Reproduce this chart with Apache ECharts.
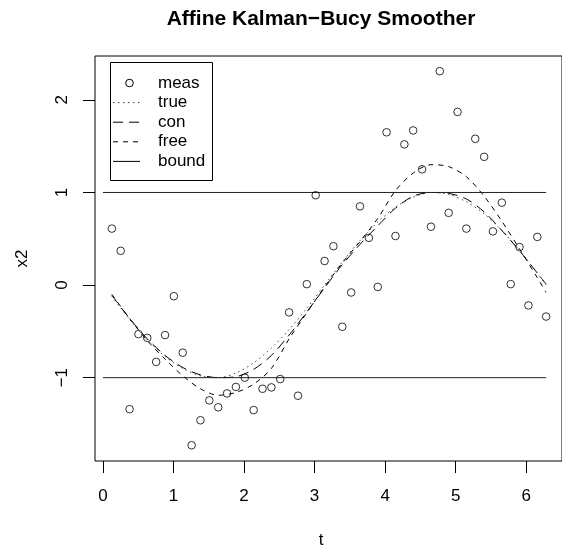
<!DOCTYPE html>
<html>
<head>
<meta charset="utf-8">
<script src="https://cdn.jsdelivr.net/npm/echarts@6/dist/echarts.min.js"></script>
<style>html,body{margin:0;padding:0;background:#fff}#c{width:562px;height:548px}</style>
</head>
<body>
<div id="c"></div>
<script>
// measurement times
const tMeas = [0.126,0.251,0.377,0.503,0.628,0.754,0.880,1.005,1.131,1.257,1.382,1.508,1.634,1.759,1.885,2.011,2.136,2.262,2.388,2.513,2.639,2.765,2.890,3.016,3.142,3.267,3.393,3.519,3.644,3.770,3.896,4.021,4.147,4.273,4.398,4.524,4.650,4.775,4.901,5.027,5.152,5.278,5.404,5.529,5.655,5.781,5.906,6.032,6.158,6.283];
const meas = [0.61,0.37,-1.34,-0.53,-0.57,-0.83,-0.54,-0.12,-0.73,-1.73,-1.46,-1.245,-1.32,-1.17,-1.10,-1.00,-1.35,-1.12,-1.105,-1.015,-0.295,-1.195,0.01,0.97,0.26,0.42,-0.45,-0.08,0.85,0.51,-0.02,1.65,0.53,1.52,1.67,1.25,0.63,2.31,0.78,1.87,0.61,1.58,1.385,0.58,0.89,0.01,0.41,-0.22,0.52,-0.34];
// smoothed curves
const tLine = [0.126,0.377,0.628,0.880,1.131,1.382,1.634,1.885,2.136,2.388,2.639,2.890,3.142,3.393,3.644,3.896,4.147,4.398,4.650,4.901,5.152,5.404,5.655,5.906,6.158,6.283];
const trueVals = [-0.12,-0.37,-0.59,-0.77,-0.90,-0.98,-1.00,-0.95,-0.84,-0.68,-0.48,-0.25,0.00,0.25,0.48,0.68,0.84,0.95,1.00,0.98,0.90,0.77,0.59,0.37,0.13,0.00];
const conVals = [-0.11,-0.36,-0.58,-0.76,-0.89,-0.97,-1.00,-0.99,-0.91,-0.76,-0.54,-0.29,-0.03,0.22,0.44,0.64,0.83,0.96,1.00,0.99,0.93,0.79,0.59,0.37,0.13,0.01];
const freeVals = [-0.10,-0.36,-0.60,-0.80,-0.98,-1.12,-1.19,-1.16,-1.07,-0.90,-0.58,-0.30,-0.02,0.24,0.47,0.72,1.02,1.21,1.30,1.28,1.17,0.96,0.69,0.39,0.08,-0.08];
const boundT = [0, 6.283];
const boundUpper = [1, 1];
const boundLower = [-1, -1];
const xTicks = [0,1,2,3,4,5,6];
const yTicks = [-1,0,1,2];

const FONT = '"Liberation Sans", Arial, Helvetica, sans-serif';
const pair = (xs, ys) => xs.map((x, i) => [x, ys[i]]);

const chart = echarts.init(document.getElementById('c'), null, {renderer: 'canvas'});

const legendItems = [
  {name: 'meas', kind: 'circle'},
  {name: 'true', dash: [1.5, 3.5], color: '#444'},
  {name: 'con', dash: [10, 6], color: '#000'},
  {name: 'free', dash: [5, 5], color: '#000'},
  {name: 'bound', dash: null, color: '#000'}
];
const legX = 110.5, legY = 62.5, legW = 102, legH = 118, rowY0 = 83, rowDy = 19.6;
const legendEls = [{
  type: 'rect', shape: {x: legX, y: legY, width: legW, height: legH},
  style: {fill: '#fff', stroke: '#000', lineWidth: 1}, z: 100
}];
legendItems.forEach((it, i) => {
  const y = rowY0 + i * rowDy;
  if (it.kind === 'circle') {
    legendEls.push({type: 'circle', shape: {cx: 129.5, cy: y, r: 3.8},
      style: {fill: 'none', stroke: '#000', lineWidth: 1}, z: 101});
  } else {
    legendEls.push({type: 'line', shape: {x1: 113, y1: y, x2: 140, y2: y},
      style: {stroke: it.color, lineWidth: 1, lineDash: it.dash}, z: 101});
  }
  legendEls.push({type: 'text', x: 158, y: y, z: 101,
    style: {text: it.name, font: '17px ' + FONT, fill: '#000', textAlign: 'left', textVerticalAlign: 'middle'}});
});

const option = {
  animation: false,
  backgroundColor: '#fff',
  grid: {left: 95, top: 56, right: -2, bottom: 87, show: true, borderColor: '#000', borderWidth: 1, containLabel: false},
  xAxis: {
    type: 'value', min: -0.113, max: 6.508,
    splitLine: {show: false},
    axisLine: {show: false, onZero: false},
    axisTick: {show: true, inside: false, length: 12, lineStyle: {color: '#000'}, customValues: xTicks},
    axisLabel: {show: true, margin: 27, color: '#000', fontSize: 17, fontFamily: FONT, customValues: xTicks}
  },
  yAxis: {
    type: 'value', min: -1.90, max: 2.474,
    splitLine: {show: false},
    axisLine: {show: false, onZero: false},
    axisTick: {show: true, inside: false, length: 12, lineStyle: {color: '#000'}, customValues: yTicks},
    axisLabel: {show: true, margin: 24, rotate: 90, color: '#000', fontSize: 17, fontFamily: FONT, customValues: yTicks,
      formatter: v => (v < 0 ? '\u2212' + Math.abs(v) : String(v))}
  },
  series: [
    {name: 'meas', type: 'scatter', data: pair(tMeas, meas), symbol: 'circle', symbolSize: 7.6,
      itemStyle: {color: 'rgba(0,0,0,0)', borderColor: '#000', borderWidth: 1}, z: 5},
    {name: 'true', type: 'line', data: pair(tLine, trueVals), smooth: 0.3, showSymbol: false,
      lineStyle: {color: '#444', width: 1, type: [1.5, 3.5]}},
    {name: 'con', type: 'line', data: pair(tLine, conVals), smooth: 0.3, showSymbol: false,
      lineStyle: {color: '#000', width: 1, type: [10, 6]}},
    {name: 'free', type: 'line', data: pair(tLine, freeVals), smooth: 0.3, showSymbol: false,
      lineStyle: {color: '#000', width: 1, type: [5, 5]}},
    {name: 'bound', type: 'line', data: pair(boundT, boundUpper), showSymbol: false,
      lineStyle: {color: '#222', width: 1, type: 'solid'}},
    {name: 'bound', type: 'line', data: pair(boundT, boundLower), showSymbol: false,
      lineStyle: {color: '#222', width: 1, type: 'solid'}}
  ],
  graphic: [
    {type: 'text', x: 321, y: 19, style: {text: 'Affine Kalman\u2212Bucy Smoother', font: 'bold 21px ' + FONT, fill: '#000', textAlign: 'center', textVerticalAlign: 'middle'}},
    {type: 'text', x: 321, y: 540, style: {text: 't', font: '17px ' + FONT, fill: '#000', textAlign: 'center', textVerticalAlign: 'middle'}},
    {type: 'text', x: 22, y: 258.5, rotation: Math.PI / 2, style: {text: 'x2', font: '17px ' + FONT, fill: '#000', textAlign: 'center', textVerticalAlign: 'middle'}}
  ].concat(legendEls)
};
chart.setOption(option);
</script>
</body>
</html>
